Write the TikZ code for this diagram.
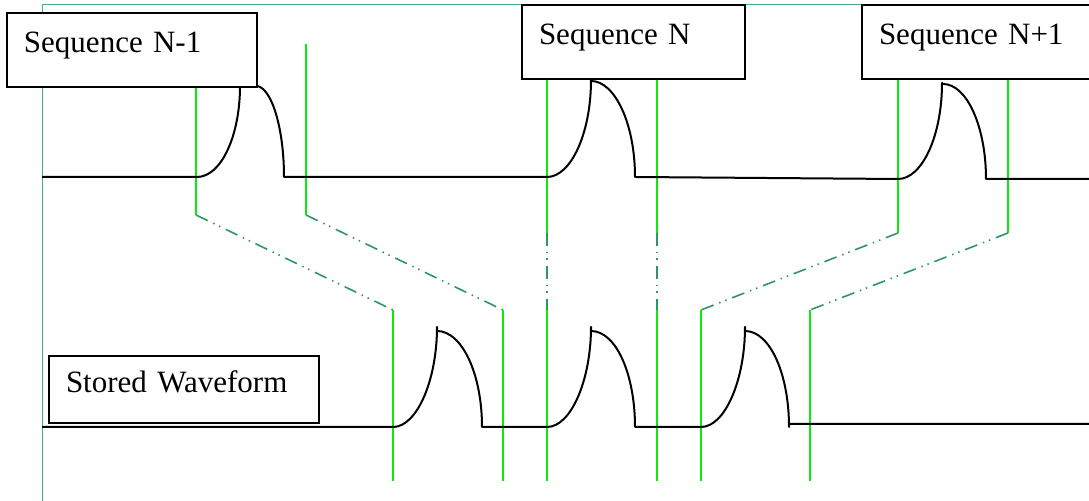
\documentclass[tikz,border=0pt]{standalone}
\usepackage{fontspec}
\setmainfont{Liberation Serif}
\usepackage{tikz}
\definecolor{gateGreen}{RGB}{10,235,10}
\definecolor{linkGreen}{RGB}{46,150,100}
\definecolor{frameGreen}{RGB}{70,170,130}

\begin{document}
\begin{tikzpicture}[
  x=0.5pt, y=-0.5pt,
  seqbox/.style={draw, fill=white, line width=1pt, align=left, inner xsep=8.5pt,
    text height=10.5pt, text depth=7.5pt, minimum height=37pt,
    font=\fontsize{15.5}{18}\selectfont},
  wave/.style={line width=1pt, line join=round},
  gate/.style={gateGreen, line width=1.1pt},
  link/.style={linkGreen, line width=0.8pt,
    dash pattern=on 6.5pt off 3pt on 0.75pt off 2.5pt on 0.75pt off 3pt},
  frame/.style={frameGreen, line width=0.5pt}
]
\clip (0,0) rectangle (1089,501);
\draw[frame] (42,501) -- (42,5) -- (1089,5);

% sampling gates: top sequence -> stored waveform
\foreach \xt/\ya/\yb/\xb in {196/86/215/393, 306/44/215/503, 547/79/233/547,
    657/79/233/657, 898/79/233/701, 1008/79/233/810} {
  \draw[gate] (\xt,\ya) -- (\xt,\yb);
  \draw[link] (\xt,\yb) -- (\xb,310);
  \draw[gate] (\xb,310) -- (\xb,481);
}

% incoming sequences
\draw[wave] (42,177) -- (197,177) .. controls (221,177) and (240,136) .. (240,86)
  -- (256,86) .. controls (271,86) and (284,127) .. (284,177)
  -- (547,177) .. controls (571,177) and (591,133) .. (591,80)
  -- (591,81) .. controls (615,81) and (635,124) .. (635,177)
  -- (898,179) .. controls (922,179) and (942,136) .. (942,83)
  -- (943,84) .. controls (967,84) and (986,127) .. (986,179)
  -- (1089,179);

% stored waveform
\draw[wave] (42,427) -- (393,427) .. controls (417,427) and (437,380) .. (437,327)
  -- (437,331) .. controls (462,331) and (482,374) .. (482,427)
  -- (547,427) .. controls (571,427) and (591,380) .. (591,327)
  -- (591,331) .. controls (616,331) and (635,374) .. (635,427)
  -- (701,427) .. controls (725,427) and (745,380) .. (745,327)
  -- (745,331) .. controls (770,331) and (789,374) .. (789,427)
  -- (789,424) -- (1089,424);

\node[seqbox, text width=108pt] (seqPrev) at (132,50) {Sequence N-1};
\node[seqbox, text width=94.5pt] (seqCur) at (633.5,42) {Sequence N};
\node[seqbox, text width=103pt] (seqNext) at (982,42) {Sequence N+1};
\node[seqbox, text width=118pt, minimum height=33.5pt] (stored) at (184,389.5) {Stored Waveform};
\end{tikzpicture}
\end{document}
